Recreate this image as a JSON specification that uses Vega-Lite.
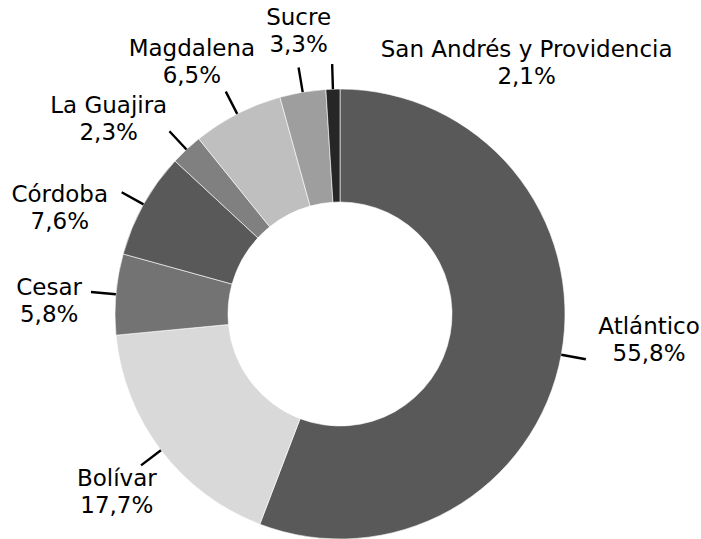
{
  "$schema": "https://vega.github.io/schema/vega-lite/v6.json",
  "width": 680,
  "height": 628,
  "autosize": "none",
  "padding": {"left": 0, "top": 0, "right": 21, "bottom": 0},
  "background": "white",
  "config": {"view": {"stroke": null}, "font": "DejaVu Sans", "text": {"font": "DejaVu Sans", "fontSize": 23, "lineHeight": 27, "color": "black"}},
  "data": {
    "values": [
      {"dept": "Atlántico", "value": 55.8, "pct": "55,8%"},
      {"dept": "Bolívar", "value": 17.7, "pct": "17,7%"},
      {"dept": "Cesar", "value": 5.8, "pct": "5,8%"},
      {"dept": "Córdoba", "value": 7.6, "pct": "7,6%"},
      {"dept": "La Guajira", "value": 2.3, "pct": "2,3%"},
      {"dept": "Magdalena", "value": 6.5, "pct": "6,5%"},
      {"dept": "Sucre", "value": 3.3, "pct": "3,3%"},
      {"dept": "San Andrés y Providencia", "value": 1.0, "pct": "2,1%"}
    ]
  },
  "transform": [
    {"window": [{"op": "row_number", "as": "i"}]},
    {"stack": "value", "groupby": [], "sort": [{"field": "i", "order": "ascending"}], "as": ["v0", "v1"]},
    {"calculate": "(datum.v0 + datum.v1) / 2", "as": "mid"},
    {"calculate": "datum.dept + '\\n' + datum.pct", "as": "label"}
  ],
  "layer": [
    {
      "mark": {"type": "arc", "innerRadius": 112, "outerRadius": 225, "stroke": "white", "strokeWidth": 0.6},
      "encoding": {
        "theta": {"field": "v0", "type": "quantitative", "stack": null, "scale": {"domain": [0, 100]}},
        "theta2": {"field": "v1"},
        "color": {
          "field": "dept",
          "type": "nominal",
          "scale": {
            "domain": ["Atlántico", "Bolívar", "Cesar", "Córdoba", "La Guajira", "Magdalena", "Sucre", "San Andrés y Providencia"],
            "range": ["#595959", "#d9d9d9", "#737373", "#595959", "#808080", "#bfbfbf", "#9e9e9e", "#262626"]
          },
          "legend": null
        }
      }
    },
    {
      "mark": {"type": "arc", "innerRadius": 225, "outerRadius": 250, "stroke": "black", "strokeWidth": 2.4, "fill": null},
      "encoding": {
        "theta": {"field": "mid", "type": "quantitative", "stack": null, "scale": {"domain": [0, 100]}},
        "theta2": {"field": "mid"}
      }
    },
    {
      "transform": [{"filter": {"field": "dept", "oneOf": ["Cesar"]}}],
      "mark": {"type": "text", "radius": 298, "lineBreak": "\n", "align": "center", "baseline": "middle", "dx": 6},
      "encoding": {
        "theta": {"field": "mid", "type": "quantitative", "stack": null, "scale": {"domain": [0, 100]}},
        "text": {"field": "label"}
      }
    },
    {
      "transform": [{"filter": {"field": "dept", "equal": "Magdalena"}}],
      "mark": {"type": "text", "radius": 298, "lineBreak": "\n", "align": "center", "baseline": "middle", "dx": -12},
      "encoding": {
        "theta": {"field": "mid", "type": "quantitative", "stack": null, "scale": {"domain": [0, 100]}},
        "text": {"field": "label"}
      }
    },
    {
      "transform": [{"filter": {"field": "dept", "equal": "Sucre"}}],
      "mark": {"type": "text", "radius": 298, "lineBreak": "\n", "align": "center", "baseline": "middle", "dx": 8, "dy": -2},
      "encoding": {
        "theta": {"field": "mid", "type": "quantitative", "stack": null, "scale": {"domain": [0, 100]}},
        "text": {"field": "label"}
      }
    },
    {
      "transform": [{"filter": {"field": "dept", "equal": "Atlántico"}}],
      "mark": {"type": "text", "radius": 298, "lineBreak": "\n", "align": "center", "baseline": "middle", "dx": 16, "dy": -41},
      "encoding": {
        "theta": {"field": "mid", "type": "quantitative", "stack": null, "scale": {"domain": [0, 100]}},
        "text": {"field": "label"}
      }
    },
    {
      "transform": [{"filter": {"field": "dept", "equal": "Bolívar"}}],
      "mark": {"type": "text", "radius": 298, "lineBreak": "\n", "align": "center", "baseline": "middle", "dx": 14, "dy": -15},
      "encoding": {
        "theta": {"field": "mid", "type": "quantitative", "stack": null, "scale": {"domain": [0, 100]}},
        "text": {"field": "label"}
      }
    },
    {
      "transform": [{"filter": {"field": "dept", "equal": "Córdoba"}}],
      "mark": {"type": "text", "radius": 298, "lineBreak": "\n", "align": "center", "baseline": "middle", "dx": -20, "dy": 26},
      "encoding": {
        "theta": {"field": "mid", "type": "quantitative", "stack": null, "scale": {"domain": [0, 100]}},
        "text": {"field": "label"}
      }
    },
    {
      "transform": [{"filter": {"field": "dept", "equal": "La Guajira"}}],
      "mark": {"type": "text", "radius": 298, "lineBreak": "\n", "align": "center", "baseline": "middle", "dx": -28, "dy": 10},
      "encoding": {
        "theta": {"field": "mid", "type": "quantitative", "stack": null, "scale": {"domain": [0, 100]}},
        "text": {"field": "label"}
      }
    },
    {
      "transform": [{"filter": {"field": "dept", "equal": "San Andrés y Providencia"}}],
      "mark": {"type": "text", "radius": 298, "lineBreak": "\n", "align": "center", "baseline": "middle", "dx": 196, "dy": 34},
      "encoding": {
        "theta": {"field": "mid", "type": "quantitative", "stack": null, "scale": {"domain": [0, 100]}},
        "text": {"field": "label"}
      }
    }
  ]
}
